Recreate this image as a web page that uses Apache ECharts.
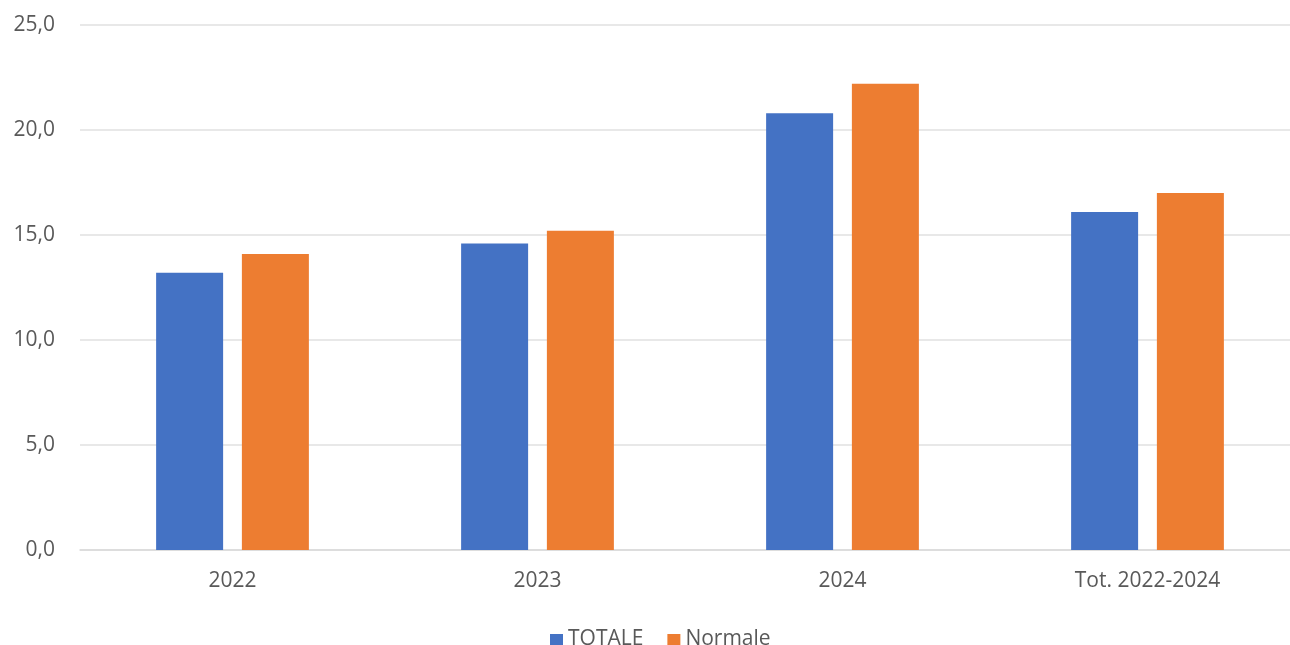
<!DOCTYPE html>
<html><head><meta charset="utf-8">
<script src="https://cdn.jsdelivr.net/npm/echarts@6/dist/echarts.min.js"></script>
<style>html,body{margin:0;padding:0;background:#fff}#c{width:1290px;height:645px}</style>
</head><body><div id="c"></div>
<script>
const categories = ['2022', '2023', '2024', 'Tot. 2022-2024'];
const totale = [13.2, 14.6, 20.8, 16.1];
const normale = [14.1, 15.2, 22.2, 17.0];
const fmt = v => v.toFixed(1).replace('.', ',');
const chart = echarts.init(document.getElementById('c'));
chart.setOption({
  animation: false,
  textStyle: { fontFamily: 'Open Sans, sans-serif' },
  grid: { left: 80, width: 1220, top: 25, height: 525, containLabel: false, outerBoundsMode: 'none' },
  legend: {
    top: 624, left: 545, itemWidth: 13, itemHeight: 11, itemGap: 24,
    icon: 'rect',
    textStyle: { fontSize: 21, color: '#595959', fontFamily: 'Open Sans, sans-serif' },
    data: ['TOTALE', 'Normale']
  },
  xAxis: {
    type: 'category', data: categories,
    axisLine: { lineStyle: { color: '#d9d9d9', width: 1.5 } },
    axisTick: { show: false },
    axisLabel: { fontSize: 21, color: '#595959', margin: 21 }
  },
  yAxis: {
    type: 'value', min: 0, max: 25, interval: 5,
    axisLabel: { fontSize: 21, color: '#595959', formatter: fmt, margin: 25 },
    splitLine: { lineStyle: { color: '#e0e0e0', width: 1.5 } },
    axisLine: { show: false }, axisTick: { show: false }
  },
  series: [
    { name: 'TOTALE', type: 'bar', data: totale, barWidth: 67, barGap: '28%', itemStyle: { color: '#4472C4' } },
    { name: 'Normale', type: 'bar', data: normale, barWidth: 67, itemStyle: { color: '#ED7D31' } }
  ]
});
</script></body></html>
